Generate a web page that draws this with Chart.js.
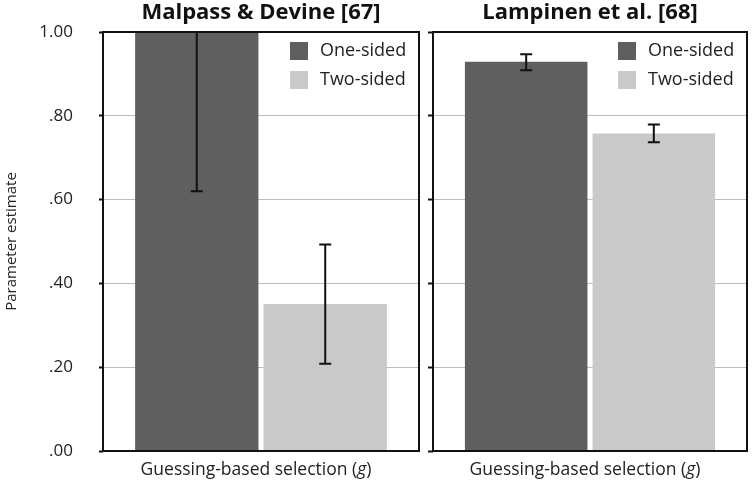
<!DOCTYPE html>
<html>
<head>
<meta charset="utf-8">
<script src="https://cdn.jsdelivr.net/npm/chart.js@4.4.1/dist/chart.umd.min.js"></script>
<style>
  html, body { margin: 0; padding: 0; background: #fff; }
  #wrap { position: relative; width: 752px; height: 486px; }
  .panel { position: absolute; top: 0; height: 486px; }
  #left { left: 0; width: 426px; }
  #right { left: 426px; width: 326px; }
</style>
</head>
<body>
<div id="wrap">
  <div class="panel" id="left"><canvas id="c1"></canvas></div>
  <div class="panel" id="right"><canvas id="c2"></canvas></div>
</div>
<script>
// data
const categories = ['Guessing-based selection'];
const categoryVar = 'g';
const seriesNames = ['One-sided', 'Two-sided'];
const panelTitles = ['Malpass & Devine [67]', 'Lampinen et al. [68]'];
const malpassValues = [1.00, 0.351];
const malpassLow = [0.62, 0.208];
const malpassHigh = [1.00, 0.493];
const lampinenValues = [0.929, 0.758];
const lampinenLow = [0.909, 0.737];
const lampinenHigh = [0.947, 0.779];
const yTickLabels = ['.00', '.20', '.40', '.60', '.80', '1.00'];
const barColors = ['#5f5f5f', '#c9c9c9'];

const FONT = '"Open Sans", Lato, sans-serif';

// error bars from the low/high arrays
const errorBars = {
  id: 'errorBars',
  afterDatasetsDraw(chart) {
    const { ctx } = chart;
    const y = chart.scales.y;
    ctx.save();
    ctx.strokeStyle = '#111';
    ctx.lineWidth = 2;
    chart.data.datasets.forEach((ds, i) => {
      chart.getDatasetMeta(i).data.forEach((bar, j) => {
        const x = bar.x;
        const top = y.getPixelForValue(ds.errHigh[j]);
        const bot = y.getPixelForValue(ds.errLow[j]);
        ctx.beginPath();
        ctx.moveTo(x, top); ctx.lineTo(x, bot);
        ctx.moveTo(x - 6, top); ctx.lineTo(x + 6, top);
        ctx.moveTo(x - 6, bot); ctx.lineTo(x + 6, bot);
        ctx.stroke();
      });
    });
    ctx.restore();
  }
};

// box around plot, legend inside top right, x label with italic g
const decorations = {
  id: 'decorations',
  afterDraw(chart) {
    const { ctx, chartArea: a } = chart;
    ctx.save();
    ctx.strokeStyle = '#111';
    ctx.lineWidth = 2;
    ctx.strokeRect(a.left, a.top, a.right - a.left, a.bottom - a.top);

    // legend
    ctx.font = '18px ' + FONT;
    ctx.textBaseline = 'middle';
    ctx.textAlign = 'left';
    chart.data.datasets.forEach((ds, i) => {
      const bx = a.right - 129, by = a.top + 10 + i * 29;
      ctx.fillStyle = ds.backgroundColor;
      ctx.fillRect(bx, by, 18, 18);
      ctx.fillStyle = '#222';
      ctx.fillText(ds.label, bx + 30, by + 9);
    });

    // category label
    const x = chart.scales.x;
    const fs = 17.5;
    categories.forEach((c, i) => {
      const cx = x.getPixelForValue(i) - 5;
      const part1 = c + ' (', part3 = ')';
      ctx.font = fs + 'px ' + FONT;
      const w1 = ctx.measureText(part1).width, w3 = ctx.measureText(part3).width;
      ctx.font = 'italic ' + fs + 'px ' + FONT;
      const w2 = ctx.measureText(categoryVar).width;
      const sx = cx - (w1 + w2 + w3) / 2;
      const ty = 470;
      ctx.fillStyle = '#222';
      ctx.font = fs + 'px ' + FONT;
      ctx.fillText(part1, sx, ty);
      ctx.font = 'italic ' + fs + 'px ' + FONT;
      ctx.fillText(categoryVar, sx + w1, ty);
      ctx.font = fs + 'px ' + FONT;
      ctx.fillText(part3, sx + w1 + w2, ty);
    });
    ctx.restore();
  }
};

function makePanel(id, title, values, low, high, showLabels, rightPad) {
  const datasets = seriesNames.map((name, i) => ({
    label: name,
    data: [values[i]],
    errLow: [low[i]],
    errHigh: [high[i]],
    backgroundColor: barColors[i],
    borderWidth: 0,
    categoryPercentage: 0.813,
    barPercentage: 0.96
  }));
  return new Chart(document.getElementById(id), {
    type: 'bar',
    data: { labels: categories, datasets },
    options: {
      responsive: true,
      maintainAspectRatio: false,
      devicePixelRatio: 1,
      animation: false,
      layout: { padding: { left: 0, right: rightPad, top: 0, bottom: 0 } },
      plugins: {
        legend: { display: false },
        tooltip: { enabled: false },
        title: {
          display: true,
          text: title,
          fullSize: false,
          color: '#111',
          font: { family: FONT, size: 22, weight: 'bold', lineHeight: 1.2 },
          padding: { top: 0, bottom: 5.6 }
        }
      },
      scales: {
        x: {
          ticks: { display: false },
          grid: { display: false },
          border: { display: false },
          afterFit(scale) { scale.height = 35; }
        },
        y: {
          min: 0,
          max: 1,
          ticks: {
            display: showLabels,
            stepSize: 0.2,
            padding: 26,
            color: '#222',
            font: { family: FONT, size: 17 },
            callback: (v, i) => yTickLabels[i]
          },
          grid: {
            color: (c) => (c.tick && (c.tick.value === 0 || c.tick.value === 1)) ? 'rgba(0,0,0,0)' : '#bdbdbd',
            lineWidth: 1,
            tickColor: '#111',
            tickLength: showLabels ? 4 : 5,
            tickWidth: 2
          },
          border: { display: false },
          title: {
            display: showLabels,
            text: 'Parameter estimate',
            color: '#222',
            font: { family: FONT, size: 15 },
            padding: { top: 3, bottom: 0 }
          },
          afterFit(scale) {
            scale.width = showLabels ? 103 : 7;
            scale.paddingTop = 0;
            scale.paddingBottom = 0;
          }
        }
      }
    },
    plugins: [errorBars, decorations]
  });
}

makePanel('c1', panelTitles[0], malpassValues, malpassLow, malpassHigh, true, 7);
makePanel('c2', panelTitles[1], lampinenValues, lampinenLow, lampinenHigh, false, 5);
</script>
</body>
</html>
